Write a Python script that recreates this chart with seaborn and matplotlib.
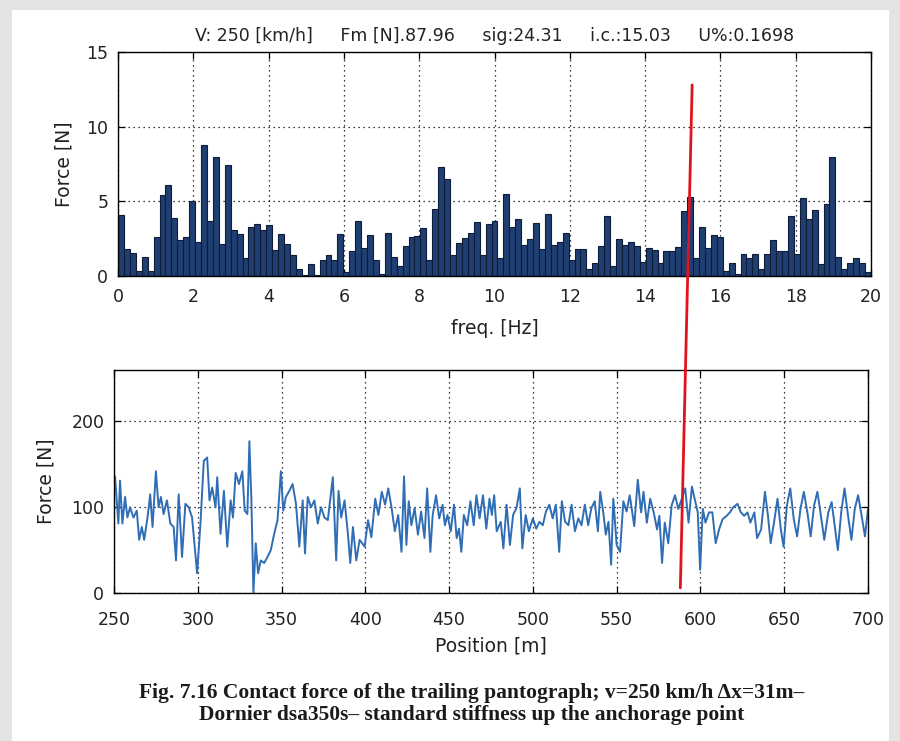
import numpy as np
import pandas as pd
import matplotlib
matplotlib.use("Agg")
import matplotlib.pyplot as plt
from matplotlib.patches import ConnectionPatch, Rectangle
import seaborn as sns

# ---------------- data ----------------
# amplitude spectrum of the contact force (bars, 0..20 Hz)
spectrum_amp = [
    4.1, 1.8, 1.55, 0.35, 1.3, 0.35, 2.6, 5.4, 6.1, 3.9, 2.4, 2.6, 5.0,
    2.3, 8.8, 3.7, 7.95, 2.15, 7.4, 3.1, 2.8, 1.2, 3.3, 3.5, 3.1, 3.4,
    1.75, 2.8, 2.15, 1.4, 0.45, 0.1, 0.8, 0.1, 1.1, 1.4, 1.1,
    2.8, 0.3, 1.7, 3.65, 1.9, 2.75, 1.05, 0.15, 2.9, 1.25, 0.7, 2.0, 2.6,
    2.7, 3.2, 1.1, 4.5, 7.3, 6.5, 1.4, 2.2, 2.55, 2.85, 3.6, 1.4, 3.5, 3.7,
    1.2, 5.5, 3.3, 3.8, 2.1, 2.45, 3.55, 1.8, 4.15, 2.05, 2.3, 2.85, 1.1,
    1.8, 1.8, 0.5, 0.85, 2.0, 4.0, 0.7, 2.45, 2.1, 2.3, 2.0,
    0.95, 1.9, 1.75, 0.85, 1.7, 1.7, 1.95, 4.35, 5.3, 1.2, 3.3, 1.9, 2.75,
    2.6, 0.35, 0.85, 0.15, 1.45, 1.2, 1.45, 0.5, 1.45, 2.4, 1.65, 1.65,
    4.0, 1.45, 5.2, 3.85, 4.4, 0.8, 4.8, 7.95, 1.3, 0.45, 0.9, 1.2, 0.85, 0.3,
]
freq_max = 20.0

# contact force along the track
position_m = [
    250.6, 252.6, 253.6, 255.0, 256.6, 258.0, 259.6, 261.6, 263.6, 265.0, 266.6, 268.0,
    270.0, 271.6, 273.0, 275.0, 276.6, 278.0, 279.6, 281.6, 283.6, 285.6, 287.0, 288.6,
    290.6, 292.6, 294.6, 296.6, 299.6, 301.6, 303.6, 305.6, 307.0, 308.6, 310.6, 311.6,
    313.6, 315.6, 317.6, 319.6, 321.0, 322.6, 324.6, 326.6, 328.0, 329.6, 330.8, 332.0,
    333.2, 334.6, 336.0, 337.6, 339.6, 341.6, 343.6, 345.6, 347.6, 349.6, 351.0, 352.6,
    354.6, 356.6, 358.6, 360.6, 362.6, 364.0, 365.6, 367.6, 369.6, 371.6, 373.6, 375.6,
    377.6, 380.6, 382.6, 384.0, 385.6, 387.6, 389.6, 391.0, 392.6, 394.6, 396.6, 399.6,
    401.6, 403.6, 405.9, 407.8, 409.8, 411.8, 413.7, 415.7, 417.6, 419.6, 421.6, 423.1,
    424.5, 425.9, 427.5, 429.4, 431.4, 433.3, 435.3, 436.9, 438.8, 440.2, 442.2, 444.1,
    446.1, 447.5, 449.0, 451.0, 452.9, 454.5, 455.9, 457.3, 458.8, 460.8, 462.7, 464.7,
    466.3, 468.2, 470.2, 472.2, 474.1, 475.5, 476.9, 478.4, 480.8, 482.4, 484.3, 486.3,
    488.2, 490.2, 492.2, 493.7, 495.7, 497.6, 500.0, 502.0, 503.9, 505.9, 507.8, 509.8,
    511.8, 513.7, 515.7, 517.3, 519.2, 521.2, 523.1, 525.1, 527.1, 529.0, 531.0, 533.0,
    534.9, 536.9, 538.8, 540.2, 542.2, 543.5, 545.1, 546.7, 548.0, 550.0, 552.0, 554.0,
    555.9, 557.8, 560.5, 562.6, 564.6, 566.0, 568.0, 570.0, 572.1, 574.1, 575.5, 577.1,
    578.7, 580.8, 582.8, 584.8, 586.8, 588.9, 590.9, 592.9, 594.9, 597.0, 598.4, 599.8,
    601.4, 603.0, 605.1, 607.1, 609.1, 611.1, 613.2, 615.6, 617.6, 619.6, 622.1, 624.1,
    626.1, 628.1, 629.8, 632.2, 633.8, 636.2, 638.5, 640.3, 641.9, 643.9, 646.0, 648.0,
    649.6, 651.6, 653.6, 655.7, 657.7, 659.7, 661.7, 663.8, 665.8, 667.8, 669.8, 671.9,
    673.9, 676.3, 678.3, 680.4, 682.0, 684.0, 686.0, 688.1, 690.1, 692.1, 694.1, 696.2,
    698.2, 700.0,
]
force_n = [
    136, 81, 131, 81, 112, 88, 100, 88, 96, 62, 77, 62,
    88, 115, 77, 142, 100, 112, 92, 108, 81, 77, 38, 115,
    42, 104, 100, 88, 23, 81, 154, 158, 108, 123, 100, 135,
    69, 119, 54, 108, 88, 140, 127, 142, 96, 92, 177, 108,
    0, 58, 23, 38, 35, 42, 50, 69, 85, 142, 96, 112,
    119, 127, 104, 54, 108, 46, 112, 100, 108, 81, 100, 88,
    85, 135, 38, 119, 88, 108, 69, 35, 77, 38, 62, 54,
    85, 65, 110, 91, 118, 103, 122, 99, 72, 91, 48, 136,
    56, 107, 79, 99, 68, 95, 64, 122, 48, 91, 114, 87,
    103, 79, 91, 72, 103, 64, 75, 48, 91, 79, 107, 79,
    114, 87, 114, 75, 110, 91, 114, 72, 83, 52, 103, 56,
    91, 99, 122, 52, 91, 72, 87, 75, 83, 79, 95, 103,
    87, 103, 48, 107, 83, 79, 103, 72, 87, 79, 103, 79,
    99, 107, 72, 118, 91, 68, 83, 33, 110, 56, 48, 107,
    95, 114, 78, 132, 94, 118, 82, 110, 94, 74, 90, 35,
    82, 58, 102, 114, 98, 110, 122, 82, 124, 106, 94, 27,
    98, 82, 94, 94, 58, 74, 86, 90, 94, 100, 104, 94,
    90, 94, 82, 94, 64, 74, 118, 90, 58, 82, 110, 74,
    54, 102, 122, 86, 66, 98, 118, 94, 66, 102, 118, 90,
    62, 94, 106, 74, 50, 94, 122, 90, 62, 98, 114, 90,
    66, 98,
]

title_text = ("V: 250 [km/h]     Fm [N].87.96     sig:24.31     "
              "i.c.:15.03     U%:0.1698")
caption_lines = [
    "Fig. 7.16 Contact force of the trailing pantograph; v=250 km/h \u0394x=31m\u2013",
    "Dornier dsa350s\u2013 standard stiffness up the anchorage point",
]
# marker line linking the spectrum to the position trace
marker_top = (15.25, 12.8)     # (Hz, N) in the spectrum axes
marker_bottom = (588.0, 6.0)   # (m, N) in the force axes

# ---------------- frames ----------------
n_bins = len(spectrum_amp)
bin_width = freq_max / n_bins
spec = pd.DataFrame({"freq": (np.arange(n_bins) + 0.5) * bin_width,
                     "amp": spectrum_amp})
trace = pd.DataFrame({"pos": position_m, "force": force_n})

# ---------------- style ----------------
sns.set_theme(style="white")
plt.rcParams["font.family"] = ["DejaVu Sans"]

fig = plt.figure(figsize=(9.0, 7.41), dpi=100)
fig.patch.set_facecolor("#e4e4e4")
fig.add_artist(Rectangle((12 / 900, 0), 877 / 900, 731 / 741,
                         transform=fig.transFigure, facecolor="white",
                         edgecolor="none", zorder=-10))

ax1 = fig.add_axes([118 / 900, 465 / 741, 753 / 900, 224 / 741])
ax2 = fig.add_axes([114 / 900, 148 / 741, 754 / 900, 223 / 741])

grid_kw = dict(color="black", linestyle=(0, (1, 3)), linewidth=0.9)
tick_color = "#222222"
label_size = 13.5
tick_size = 12.5

# spectrum
sns.histplot(data=spec, x="freq", weights="amp", bins=n_bins,
             binrange=(0.0, freq_max), stat="count",
             element="bars", fill=True, color="#1f3e72", edgecolor="#0e1c38",
             linewidth=0.8, alpha=1.0, ax=ax1)
ax1.set_xlim(0, 20)
ax1.set_ylim(0, 15)
ax1.set_xticks(np.arange(0, 21, 2))
ax1.set_yticks([0, 5, 10, 15])
ax1.set_xlabel("freq. [Hz]", fontsize=label_size, labelpad=9,
               color=tick_color)
ax1.set_ylabel("Force [N]", fontsize=label_size, labelpad=9,
               color=tick_color)
ax1.set_title(title_text, fontsize=12.5, pad=8, color=tick_color)

# force vs position
sns.lineplot(data=trace, x="pos", y="force", color="#2f6db5", linewidth=1.4,
             ax=ax2)
ax2.set_xlim(250, 700)
ax2.set_ylim(0, 260)
ax2.set_xticks(np.arange(250, 701, 50))
ax2.set_yticks([0, 100, 200])
ax2.set_xlabel("Position [m]", fontsize=label_size, labelpad=5,
               color=tick_color)
ax2.set_ylabel("Force [N]", fontsize=label_size, labelpad=11,
               color=tick_color)

for ax, xpad in ((ax1, 9), (ax2, 13)):
    ax.set_facecolor("white")
    ax.grid(True, **grid_kw)
    ax.set_axisbelow(True)
    for sp in ax.spines.values():
        sp.set_visible(True)
        sp.set_color("black")
        sp.set_linewidth(1.0)
    ax.tick_params(axis="both", which="major", direction="in", length=5,
                   width=0.9, color="black", top=True, right=True,
                   bottom=True, left=True,
                   labelsize=tick_size, labelcolor=tick_color)
    ax.tick_params(axis="x", pad=xpad)
    ax.tick_params(axis="y", pad=7)

# red marker line
con = ConnectionPatch(xyA=marker_top, coordsA=ax1.transData,
                      xyB=marker_bottom, coordsB=ax2.transData,
                      color="#e0141e", linewidth=2.0, zorder=20)
fig.add_artist(con)

# caption
serif = ["Liberation Serif", "DejaVu Serif"]
fig.text(471.5 / 900, (741 - 693) / 741, caption_lines[0],
         ha="center", va="center", fontsize=15.5, fontweight="bold",
         family=serif, color="#1a1a1a")
fig.text(471.5 / 900, (741 - 715) / 741, caption_lines[1],
         ha="center", va="center", fontsize=15.5, fontweight="bold",
         family=serif, color="#1a1a1a")

fig.savefig("out.png", dpi=100, facecolor=fig.get_facecolor())
